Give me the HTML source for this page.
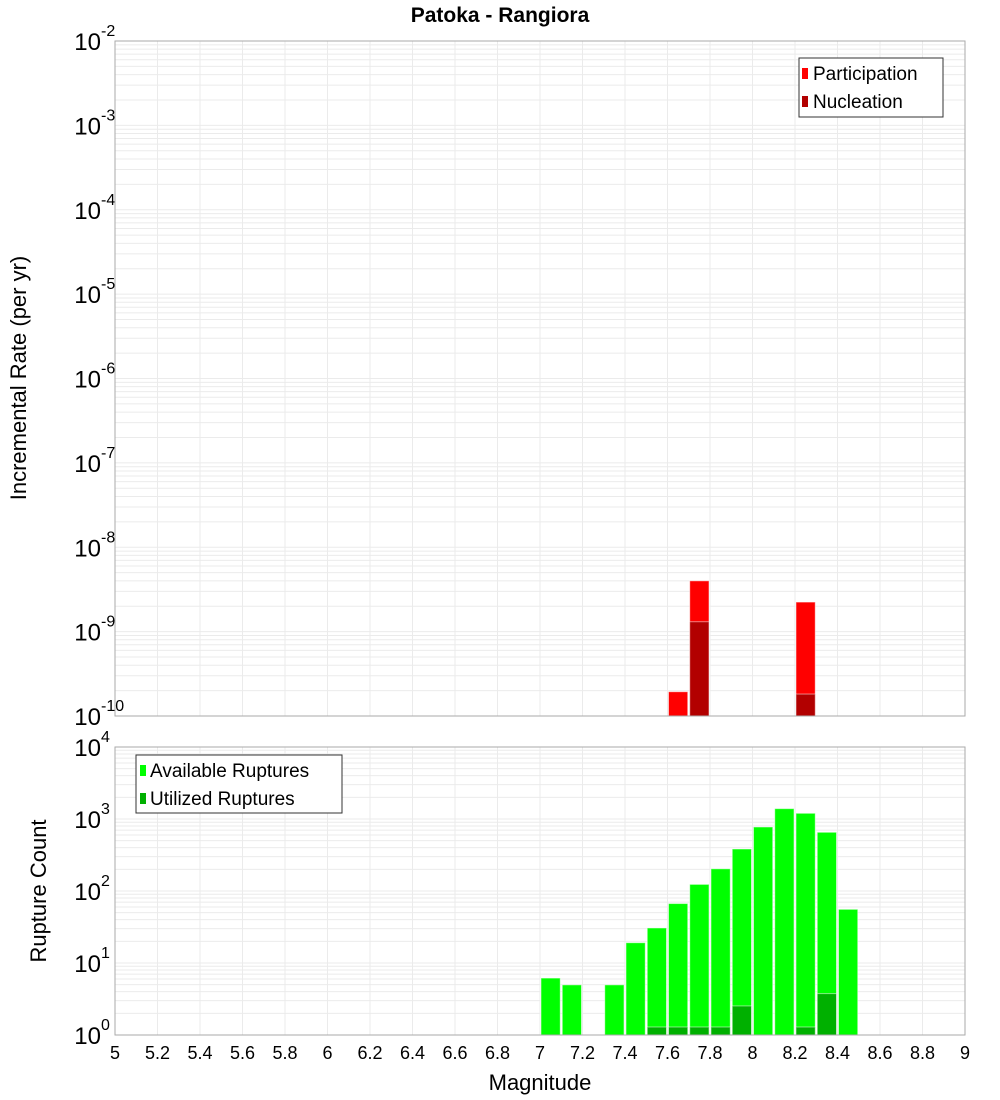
<!DOCTYPE html>
<html><head><meta charset="utf-8"><style>
html,body{margin:0;padding:0;background:#fff;}
svg{display:block;font-family:"Liberation Sans","DejaVu Sans",sans-serif;}
</style></head><body>
<svg id="chart" width="1000" height="1100" viewBox="0 0 1000 1100" xmlns="http://www.w3.org/2000/svg">
<text x="500" y="22" text-anchor="middle" font-size="21" font-weight="bold">Patoka - Rangiora</text>
<g id="top"></g><g id="bot"></g>
<text transform="translate(26,378) rotate(-90)" text-anchor="middle" font-size="22">Incremental Rate (per yr)</text>
<text transform="translate(46,891) rotate(-90)" text-anchor="middle" font-size="22">Rupture Count</text>
<text x="540" y="1090" text-anchor="middle" font-size="22">Magnitude</text>
</svg>
<script>
const rateMags = [7.6, 7.7, 8.2];
const participation = [1.94e-10, 4.0e-9, 2.24e-9];
const nucleation = [0, 1.31e-9, 1.82e-10];
const countMags = [7.0, 7.1, 7.3, 7.4, 7.5, 7.6, 7.7, 7.8, 7.9, 8.0, 8.1, 8.2, 8.3, 8.4];
const available = [5, 4, 4, 16, 26, 58, 109, 182, 349, 720, 1316, 1130, 605, 48];
const utilized = [0, 0, 0, 0, 1, 1, 1, 1, 2, 0, 0, 1, 3, 0];
const xTicks = [5,5.2,5.4,5.6,5.8,6,6.2,6.4,6.6,6.8,7,7.2,7.4,7.6,7.8,8,8.2,8.4,8.6,8.8,9];

const NS = "http://www.w3.org/2000/svg";
const X0 = 115, X1 = 965;
const xs = m => X0 + (m - 5) / 4 * (X1 - X0);
function mk(parent, tag, attrs){const e=document.createElementNS(NS,tag);for(const k in attrs)e.setAttribute(k,attrs[k]);parent.appendChild(e);return e;}

function panel(g, top, bottom, expMax, expMin, yMin, prefix){
  const dec = (bottom - top) / (expMax - expMin);
  const ys = v => top + (expMax - Math.log10(v)) * dec;
  // grid
  for (let e = Math.floor(Math.log10(yMin)); e < expMax; e++) {
    for (let k = 1; k <= 9; k++) {
      const v = k * Math.pow(10, e);
      if (v < yMin) continue;
      const y = ys(v);
      if (y < top || y > bottom) continue;
      const l = mk(g,'line',{x1:X0,x2:X1,y1:y,y2:y,stroke:'#ebebeb','stroke-width':1});
      
      
    }
  }
  xTicks.forEach(t => {
    const l = mk(g,'line',{x1:xs(t),x2:xs(t),y1:top,y2:bottom,stroke:'#ebebeb','stroke-width':1});
    
    
  });
  // y ticks
  for (let e = expMin; e <= expMax; e++) {
    const y = ys(Math.pow(10, e));
    const t = mk(g,'text',{x:101,y:y+9,'text-anchor':'end','font-size':24});
    t.textContent = '10';
    
    
    const s = mk(g,'text',{x:101,y:y-5,'font-size':16});
    s.textContent = String(e);
    
    
  }
  return ys;
}

function bar(g, m, v, base, ys, color, name){
  if (!v) return;
  const y = ys(v);
  const r = mk(g,'rect',{x:xs(m)+1,y:y,width:xs(m+0.1)-xs(m)-2,height:base-y,fill:color,stroke:'rgba(255,255,255,0.5)','stroke-width':1});
  
  
}

// top panel
const gt = document.getElementById('top');
const TT = 41, TB = 716;
const ysT = panel(gt, TT, TB, -2, -10, 1e-10, 'top');
rateMags.forEach((m,i)=>bar(gt,m,participation[i],TB,ysT,'#ff0000','participation-bar'));
rateMags.forEach((m,i)=>bar(gt,m,nucleation[i],TB,ysT,'#b20000','nucleation-bar'));
let f = mk(gt,'rect',{x:X0,y:TT,width:X1-X0,height:TB-TT,fill:'none',stroke:'#aaa','stroke-width':1});


// top legend
const lg = mk(gt,'g',{});


mk(lg,'rect',{x:799,y:58,width:144,height:59,fill:'#fff',stroke:'#333','stroke-width':1});
mk(lg,'rect',{x:802,y:68,width:6,height:11,fill:'#ff0000'});
mk(lg,'rect',{x:802,y:96,width:6,height:11,fill:'#b20000'});
let t1 = mk(lg,'text',{x:813,y:80,'font-size':19}); t1.textContent='Participation';


let t2 = mk(lg,'text',{x:813,y:108,'font-size':19}); t2.textContent='Nucleation';



// bottom panel
const gb = document.getElementById('bot');
const BT = 747, BB = 1035;
const decB = 70;
const expMinB = 4 - (BB - BT) / decB;
const ysB = v => BT + (4 - Math.log10(v)) * decB;
panel(gb, BT, BB, 4, 0, Math.pow(10, expMinB), 'bottom');
countMags.forEach((m,i)=>bar(gb,m,available[i],BB,ysB,'#00ff00','available-bar'));
countMags.forEach((m,i)=>bar(gb,m,utilized[i],BB,ysB,'#00b000','utilized-bar'));
f = mk(gb,'rect',{x:X0,y:BT,width:X1-X0,height:BB-BT,fill:'none',stroke:'#aaa','stroke-width':1});


const lb = mk(gb,'g',{});


mk(lb,'rect',{x:136,y:755,width:206,height:58,fill:'#fff',stroke:'#333','stroke-width':1});
mk(lb,'rect',{x:140,y:765,width:6,height:11,fill:'#00ff00'});
mk(lb,'rect',{x:140,y:793,width:6,height:11,fill:'#00b000'});
let t3 = mk(lb,'text',{x:150,y:777,'font-size':19}); t3.textContent='Available Ruptures';


let t4 = mk(lb,'text',{x:150,y:805,'font-size':19}); t4.textContent='Utilized Ruptures';



// x tick labels
xTicks.forEach(t=>{
  const e = mk(gb,'text',{x:xs(t),y:1059,'text-anchor':'middle','font-size':18});
  e.textContent = String(t);
  
  
});
</script>
</body></html>
